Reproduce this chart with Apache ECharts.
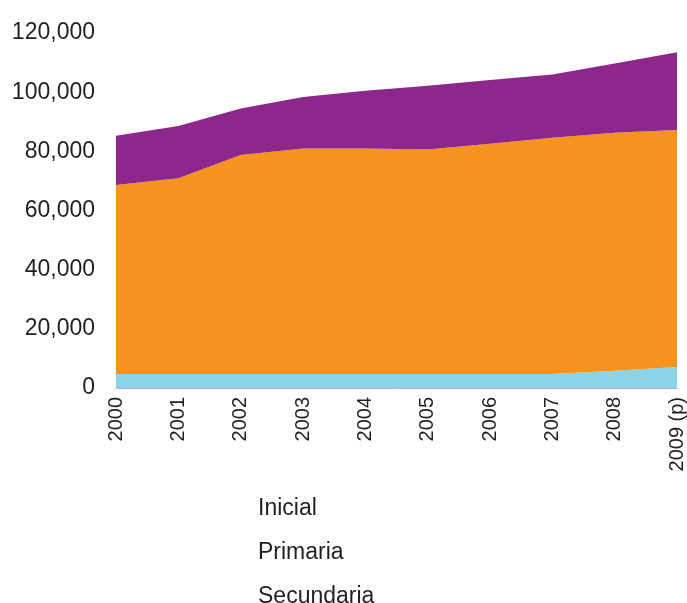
<!DOCTYPE html>
<html>
<head>
<meta charset="utf-8">
<script src="https://cdn.jsdelivr.net/npm/echarts@6/dist/echarts.min.js"></script>
<style>
  html, body { margin: 0; padding: 0; background: #fff; }
  #chart { width: 687px; height: 603px; }
</style>
</head>
<body>
<div id="chart"></div>
<script>
// years on the x axis
var years = ['2000', '2001', '2002', '2003', '2004', '2005', '2006', '2007', '2008', '2009 (p)']

// values (stacked)
var inicial = [4700, 4700, 4700, 4700, 4700, 4700, 4700, 4700, 5800, 7100]
var primaria = [63900, 66200, 74100, 76300, 76300, 75900, 77900, 79900, 80500, 80100]
var secundaria = [16700, 17700, 15700, 17400, 19500, 21600, 21500, 21400, 23400, 26300]

var font = '"Liberation Sans", Arial, sans-serif'
var textColor = '#231f20'

var chart = echarts.init(document.getElementById('chart'))

function areaSeries(name, data, color) {
  return {
    name: name,
    type: 'line',
    stack: 'total',
    data: data,
    symbol: 'none',
    lineStyle: { width: 0 },
    areaStyle: { color: color, opacity: 1 },
    itemStyle: { color: color },
    animation: false
  }
}

chart.setOption({
  backgroundColor: '#fff',
  grid: {
    left: 116,
    right: 7,
    top: 33,
    bottom: 215
  },
  legend: {
    orient: 'vertical',
    left: 253,
    top: 497,
    height: 300,
    padding: 0,
    icon: 'none',
    itemWidth: 0,
    itemHeight: 22,
    itemGap: 21,
    data: ['Inicial', 'Primaria', 'Secundaria'],
    textStyle: { fontFamily: font, fontSize: 23, color: textColor }
  },
  xAxis: {
    type: 'category',
    data: years,
    boundaryGap: false,
    axisTick: { show: false },
    axisLine: { lineStyle: { color: '#b9aad6', width: 1 } },
    axisLabel: {
      rotate: 90,
      margin: 9,
      interval: 0,
      fontFamily: font,
      fontSize: 20,
      color: textColor
    }
  },
  yAxis: {
    type: 'value',
    min: 0,
    max: 120000,
    interval: 20000,
    splitLine: { show: false },
    axisLine: { show: false },
    axisTick: { show: false },
    axisLabel: {
      margin: 21,
      padding: [0, 0, 9, 0],
      fontFamily: font,
      fontSize: 23,
      color: textColor,
      formatter: function (v) {
        return v.toLocaleString('en-US')
      }
    }
  },
  series: [
    areaSeries('Inicial', inicial, '#89d4e8'),
    areaSeries('Primaria', primaria, '#f6921e'),
    areaSeries('Secundaria', secundaria, '#8e278b')
  ]
})
</script>
</body>
</html>
